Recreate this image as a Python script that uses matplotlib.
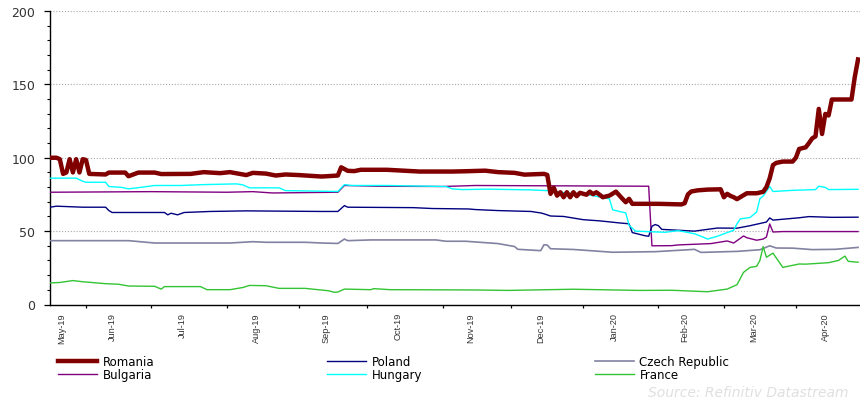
import numpy as np
import matplotlib
matplotlib.use("Agg")
import matplotlib.pyplot as plt
from matplotlib import font_manager

# ---------------------------------------------------------------- data
START = "2019-05-17"
X_END = 247.6  # last business-day slot shown on the axis

month_labels = ["May-19", "Jun-19", "Jul-19", "Aug-19", "Sep-19", "Oct-19",
                "Nov-19", "Dec-19", "Jan-20", "Feb-20", "Mar-20", "Apr-20"]
month_bounds = ["2019-05-17", "2019-06-01", "2019-07-01", "2019-08-01",
                "2019-09-01", "2019-10-01", "2019-11-01", "2019-12-01",
                "2020-01-01", "2020-02-01", "2020-03-01", "2020-04-01",
                "2020-05-01"]

romania_dates = [
    "2019-05-17", "2019-05-21", "2019-05-22", "2019-05-23", "2019-05-24",
    "2019-05-27", "2019-05-28", "2019-05-29", "2019-05-30", "2019-05-31",
    "2019-06-03", "2019-06-04", "2019-06-11", "2019-06-12", "2019-06-19",
    "2019-06-20", "2019-06-25", "2019-07-02", "2019-07-04", "2019-07-17",
    "2019-07-23", "2019-07-30", "2019-08-02", "2019-08-09", "2019-08-13",
    "2019-08-19", "2019-08-22", "2019-08-27", "2019-09-02", "2019-09-11",
    "2019-09-16", "2019-09-18", "2019-09-19", "2019-09-23", "2019-09-25",
    "2019-09-27", "2019-10-09", "2019-10-23", "2019-11-06", "2019-11-12",
    "2019-11-20", "2019-11-26", "2019-12-03", "2019-12-06", "2019-12-16",
    "2019-12-17", "2019-12-18", "2019-12-19", "2019-12-20", "2019-12-23",
    "2019-12-24", "2019-12-25", "2019-12-26", "2019-12-27", "2019-12-30",
    "2019-12-31", "2020-01-02", "2020-01-03", "2020-01-06", "2020-01-07",
    "2020-01-09", "2020-01-13", "2020-01-15", "2020-01-17", "2020-01-20",
    "2020-01-21", "2020-01-22", "2020-02-03", "2020-02-12", "2020-02-13",
    "2020-02-14", "2020-02-17", "2020-02-19", "2020-02-24", "2020-02-28",
    "2020-03-02", "2020-03-03", "2020-03-04", "2020-03-05", "2020-03-06",
    "2020-03-11", "2020-03-16", "2020-03-18", "2020-03-19", "2020-03-20",
    "2020-03-23", "2020-03-24", "2020-03-26", "2020-03-31", "2020-04-01",
    "2020-04-02", "2020-04-06", "2020-04-07", "2020-04-08", "2020-04-09",
    "2020-04-10", "2020-04-13", "2020-04-14", "2020-04-15", "2020-04-16",
    "2020-04-24", "2020-04-27", "2020-04-28"]
romania = [
    100, 100, 99, 89, 90,
    99, 90, 99, 90, 99,
    98.5, 89, 88.6, 89.9, 89.9,
    87.4, 89.9, 89.9, 88.9, 89.0,
    90.2, 89.5, 90.2, 88.2, 89.7,
    89.2, 87.9, 88.6, 88.2, 87.2,
    87.6, 87.9, 93.5, 91.1, 90.9,
    91.8, 91.8, 90.6, 90.6, 90.8,
    91.2, 90.2, 89.7, 88.5, 89.0,
    88.3, 75.4, 79.5, 74.2, 76.5,
    73.1, 76.5, 73.1, 76.5, 73.8,
    76.1, 74.8, 76.9, 75.2, 76.5,
    73.1, 74.2, 76.9, 72.0, 69.7,
    72.0, 68.6, 68.6, 68.2, 69.0,
    75.0, 77.0, 77.8, 78.3, 78.5,
    73.1, 75.4, 74.0, 73.1, 71.8,
    75.8, 75.8, 76.8, 80.0, 86.0,
    95.0, 96.5, 97.4, 97.4, 100.0,
    106.0, 107.1, 110.0, 113.2, 114.6,
    133.3, 116.2, 129.9, 128.8, 139.7,
    139.7, 155.0, 167.0]

poland_dates = [
    "2019-05-17", "2019-05-21", "2019-05-31", "2019-06-11", "2019-06-12",
    "2019-06-13", "2019-07-05", "2019-07-08", "2019-07-09", "2019-07-11",
    "2019-07-15", "2019-07-25", "2019-08-09", "2019-09-11", "2019-09-18",
    "2019-09-20", "2019-09-23", "2019-10-21", "2019-10-29", "2019-11-13",
    "2019-11-15", "2019-11-26", "2019-12-10", "2019-12-13", "2019-12-16",
    "2019-12-18", "2019-12-24", "2020-01-01", "2020-01-08", "2020-01-16",
    "2020-01-21", "2020-01-22", "2020-01-28", "2020-01-29", "2020-01-30",
    "2020-01-31", "2020-02-03", "2020-02-04", "2020-02-18", "2020-02-25",
    "2020-02-27", "2020-03-06", "2020-03-12", "2020-03-19", "2020-03-20",
    "2020-03-23", "2020-03-27", "2020-04-02", "2020-04-07", "2020-04-16",
    "2020-04-28"]
poland = [
    66.3, 67.0, 66.3, 66.3, 64.0,
    62.7, 62.7, 61.1, 62.2, 61.1,
    62.7, 63.4, 63.8, 63.4, 63.4,
    67.4, 66.3, 66.0, 65.4, 65.1,
    64.7, 64.0, 63.4, 62.4, 61.8,
    60.3, 60.0, 57.8, 57.0, 55.6,
    55.0, 49.0, 46.8, 46.5, 53.3,
    54.5, 53.7, 51.2, 50.0, 51.5,
    52.1, 52.0, 53.7, 56.2, 59.0,
    57.5, 58.3, 59.1, 59.9, 59.4,
    59.5]

czech_dates = [
    "2019-05-17", "2019-06-20", "2019-07-02", "2019-08-02", "2019-08-13",
    "2019-08-19", "2019-09-04", "2019-09-11", "2019-09-18", "2019-09-20",
    "2019-09-23", "2019-10-02", "2019-10-30", "2019-11-04", "2019-11-12",
    "2019-11-26", "2019-12-03", "2019-12-04", "2019-12-13", "2019-12-16",
    "2019-12-17", "2019-12-18", "2019-12-27", "2020-01-14", "2020-01-31",
    "2020-02-14", "2020-02-18", "2020-02-20", "2020-03-06", "2020-03-17",
    "2020-03-20", "2020-03-24", "2020-03-31", "2020-04-08", "2020-04-17",
    "2020-04-28"]
czech = [
    43.5, 43.5, 41.9, 41.9, 42.8,
    42.4, 42.4, 41.9, 41.6, 44.6,
    43.5, 44.0, 44.0, 43.1, 43.1,
    41.5, 39.5, 37.6, 36.7, 40.7,
    40.5, 38.0, 37.5, 35.6, 36.0,
    37.3, 37.6, 35.5, 36.2, 37.3,
    40.0, 38.5, 38.4, 37.4, 37.6,
    38.9]

bulgaria_dates = [
    "2019-05-17", "2019-07-01", "2019-08-01", "2019-08-13", "2019-08-21",
    "2019-09-18", "2019-09-20", "2019-10-04", "2019-11-01", "2019-11-15",
    "2020-01-28", "2020-01-29", "2020-01-30", "2020-02-07", "2020-02-11",
    "2020-02-25", "2020-03-03", "2020-03-05", "2020-03-10", "2020-03-11",
    "2020-03-16", "2020-03-18", "2020-03-19", "2020-03-20", "2020-03-23",
    "2020-03-26", "2020-04-28"]
bulgaria = [
    76.5, 76.9, 76.5, 76.9, 76.0,
    76.5, 81.1, 80.6, 80.4, 81.1,
    80.6, 80.6, 40.0, 40.1, 40.6,
    41.5, 43.3, 41.9, 46.7, 45.5,
    43.8, 44.6, 46.0, 54.9, 49.4,
    49.7, 49.7]

hungary_dates = [
    "2019-05-17", "2019-05-29", "2019-05-31", "2019-06-03", "2019-06-11",
    "2019-06-12", "2019-06-18", "2019-06-20", "2019-06-26", "2019-07-02",
    "2019-07-12", "2019-07-23", "2019-08-06", "2019-08-08", "2019-08-12",
    "2019-08-23", "2019-08-27", "2019-09-04", "2019-09-18", "2019-09-20",
    "2019-09-24", "2019-10-09", "2019-10-23", "2019-11-04", "2019-11-06",
    "2019-11-11", "2019-11-21", "2019-12-10", "2019-12-17", "2019-12-23",
    "2019-12-27", "2020-01-03", "2020-01-10", "2020-01-13", "2020-01-14",
    "2020-01-20", "2020-01-21", "2020-01-23", "2020-02-05", "2020-02-11",
    "2020-02-13", "2020-02-18", "2020-02-20", "2020-02-24", "2020-02-27",
    "2020-03-03", "2020-03-05", "2020-03-06", "2020-03-09", "2020-03-12",
    "2020-03-16", "2020-03-17", "2020-03-18", "2020-03-20", "2020-03-23",
    "2020-03-31", "2020-04-09", "2020-04-10", "2020-04-14", "2020-04-15",
    "2020-04-28"]
hungary = [
    86.1, 86.1, 84.0, 83.3, 83.3,
    80.4, 79.8, 78.8, 79.9, 81.1,
    81.1, 81.7, 82.2, 81.5, 79.5,
    79.5, 77.6, 77.4, 77.0, 81.7,
    81.1, 81.1, 80.7, 80.4, 78.8,
    78.3, 78.6, 78.1, 77.6, 76.5,
    75.5, 74.6, 72.4, 72.0, 64.5,
    62.4, 54.0, 50.0, 49.2, 50.3,
    49.5, 48.2, 46.5, 44.6, 46.5,
    49.0, 50.6, 55.0, 58.3, 59.3,
    63.0, 72.1, 73.9, 80.4, 77.0,
    77.8, 78.3, 80.6, 79.8, 78.3,
    78.5]

france_dates = [
    "2019-05-17", "2019-05-22", "2019-05-28", "2019-05-31", "2019-06-11",
    "2019-06-17", "2019-06-20", "2019-07-02", "2019-07-04", "2019-07-05",
    "2019-07-22", "2019-07-24", "2019-08-02", "2019-08-08", "2019-08-12",
    "2019-08-19", "2019-08-23", "2019-09-04", "2019-09-13", "2019-09-17",
    "2019-09-18", "2019-09-20", "2019-10-02", "2019-10-03", "2019-10-10",
    "2019-11-15", "2019-11-29", "2019-12-27", "2020-01-24", "2020-02-07",
    "2020-02-24", "2020-03-03", "2020-03-05", "2020-03-06", "2020-03-10",
    "2020-03-12", "2020-03-16", "2020-03-17", "2020-03-18", "2020-03-19",
    "2020-03-23", "2020-03-26", "2020-04-02", "2020-04-06", "2020-04-15",
    "2020-04-20", "2020-04-22", "2020-04-23", "2020-04-28"]
france = [
    14.7, 15.0, 16.3, 15.5, 14.2,
    13.8, 12.6, 12.4, 10.5, 12.2,
    12.2, 10.1, 10.1, 11.6, 13.0,
    12.8, 11.0, 11.0, 9.4, 8.3,
    8.5, 10.5, 10.1, 10.8, 10.1,
    9.9, 9.6, 10.4, 9.6, 9.7,
    8.7, 10.5, 12.5, 13.5, 21.9,
    25.3, 26.0, 30.0, 39.5, 32.2,
    35.0, 25.3, 27.6, 27.5, 28.5,
    30.0, 33.0, 29.4, 28.8]

series = [
    ("Romania", romania_dates, romania, "#800000", 3.2),
    ("Bulgaria", bulgaria_dates, bulgaria, "#800080", 1.0),
    ("Poland", poland_dates, poland, "#000080", 1.0),
    ("Hungary", hungary_dates, hungary, "#00ffff", 1.0),
    ("Czech Republic", czech_dates, czech, "#8282a2", 1.2),
    ("France", france_dates, france, "#33c433", 1.0),
]


def bday_pos(dates):
    """Position of each date counted in business days from START."""
    return np.busday_count(START, np.array(dates, dtype="datetime64[D]"))


# ---------------------------------------------------------------- fonts
installed = {f.name for f in font_manager.fontManager.ttflist}
if "Liberation Sans Narrow" in installed:
    narrow, narrow_size = "Liberation Sans Narrow", 7.8
else:
    narrow, narrow_size = "Liberation Sans", 6.6

plt.rcParams["font.family"] = ["DejaVu Sans"]

# ---------------------------------------------------------------- figure
fig = plt.figure(figsize=(8.6, 4.02), dpi=100)
ax = fig.add_axes([50 / 860, 96.5 / 402, 810 / 860, 293.5 / 402])

handles = {}
for name, d, v, color, lw in series:
    z = 5 if name == "Romania" else 3
    (ln,) = ax.plot(bday_pos(d), v, color=color, lw=lw, zorder=z,
                    solid_joinstyle="round", label=name)
    handles[name] = ln

ax.set_xlim(0, X_END)
ax.set_ylim(0, 200)

for s in ("top", "right"):
    ax.spines[s].set_visible(False)
for s in ("left", "bottom"):
    ax.spines[s].set_linewidth(1.0)
    ax.spines[s].set_color("black")

# y axis
ax.set_yticks(np.arange(0, 201, 50))
ax.set_yticks(np.arange(0, 201, 10), minor=True)
ax.tick_params(axis="y", which="major", direction="out", length=4.5,
               width=0.9, pad=6.0, labelsize=9, labelcolor="#333333")
ax.tick_params(axis="y", which="minor", direction="out", length=2.2,
               width=0.8)
ax.yaxis.grid(True, which="major", color="#a8a8a8",
              linestyle=(0, (1, 1.6)), linewidth=0.8)
ax.set_axisbelow(True)

# x axis: ticks at month boundaries, labels inside each month
bounds = bday_pos(month_bounds).astype(float)
bounds[0] = 0.0
label_pos = (bounds[:-1] + bounds[1:]) / 2 - 2.0
ax.set_xticks(bounds[1:-1])
ax.set_xticklabels([])
ax.set_xticks(label_pos, minor=True)
ax.set_xticklabels(month_labels, minor=True, rotation=90,
                   fontfamily=narrow, fontsize=narrow_size, color="#333333")
ax.tick_params(axis="x", which="major", direction="out", length=2.5,
               width=0.9)
ax.tick_params(axis="x", which="minor", length=0, pad=5.5)

# legend
order = ["Romania", "Bulgaria", "Poland", "Hungary", "Czech Republic", "France"]
fig.legend([handles[n] for n in order], order, ncol=3, loc="upper left",
           bbox_to_anchor=(58 / 860, 1 - 356 / 402), frameon=False,
           fontsize=8.5, handlelength=3.3, handletextpad=0.5,
           columnspacing=14.6, labelspacing=0.0, borderpad=0,
           borderaxespad=0)

fig.text(849 / 860, 1 - 393 / 402, "Source: Refinitiv Datastream",
         ha="right", va="center", style="italic", fontsize=10,
         color="#e0e0e0")

fig.savefig("out.png", dpi=100)
